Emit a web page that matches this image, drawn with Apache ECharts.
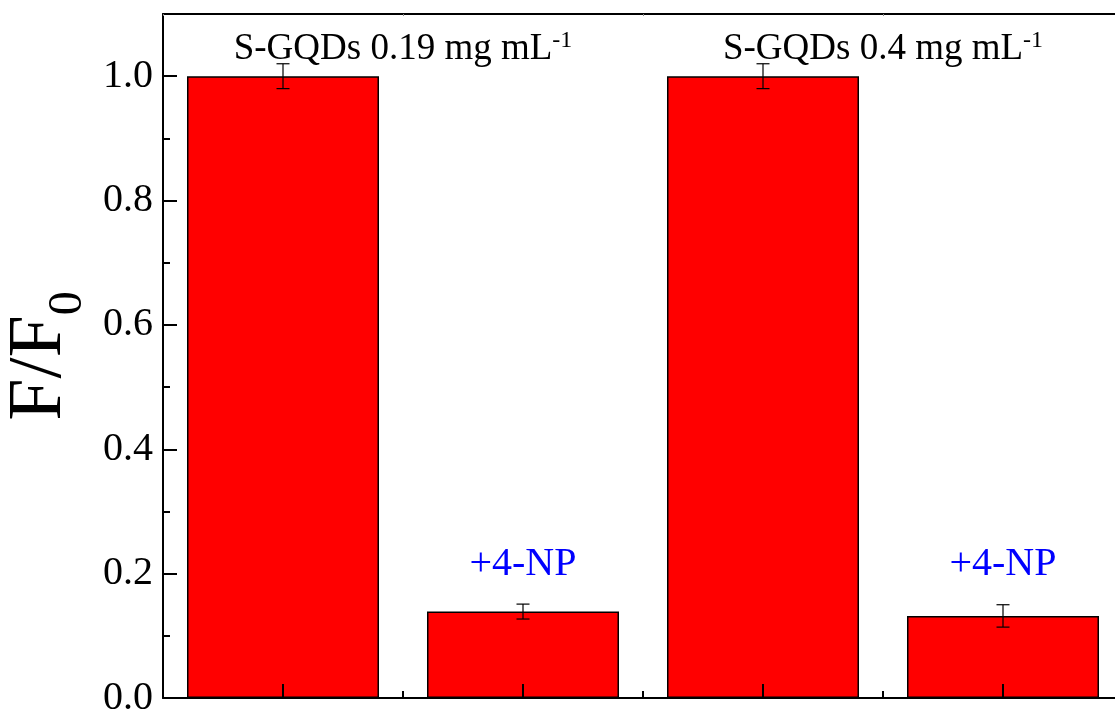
<!DOCTYPE html>
<html>
<head>
<meta charset="utf-8">
<script src="https://cdn.jsdelivr.net/npm/echarts@6/dist/echarts.min.js"></script>
<style>
  html, body { margin: 0; padding: 0; background: #fff; }
  #main { width: 1115px; height: 713px; }
</style>
</head>
<body>
<div id="main"></div>
<script>
// data
var categories = ["S-GQDs 0.19", "+4-NP (0.19)", "S-GQDs 0.4", "+4-NP (0.4)"];
var ratio = [1.0, 0.139, 1.0, 0.132];
var ratioErr = [0.02, 0.012, 0.02, 0.018];
var yTicks = [0, 0.2, 0.4, 0.6, 0.8, 1.0];
// group captions sit between the two bars of each pair
var groupNames = ["S-GQDs 0.19 mg mL", "S-GQDs 0.4 mg mL"];
var groupAt = [0, 2];
var addName = "+4-NP";
var addAt = [1, 3];

var FONT = "Liberation Serif";
var chart = echarts.init(document.getElementById("main"));

var errData = ratio.map(function (v, i) { return [i, v - ratioErr[i], v + ratioErr[i]]; });

var textData = [];
groupNames.forEach(function (t, k) { textData.push([groupAt[k], 1.044, t, "group"]); });
addAt.forEach(function (idx) { textData.push([idx, 0.214, addName, "add"]); });

chart.setOption({
  animation: false,
  grid: { left: 163, top: 14, bottom: 15, right: -8, containLabel: false, outerBoundsMode: "none" },
  xAxis: [
    {
      type: "category",
      data: categories,
      position: "bottom",
      z: 10,
      axisLine: { lineStyle: { color: "#000", width: 2 } },
      axisTick: { show: true, inside: true, alignWithLabel: true, interval: 0, length: 14, lineStyle: { color: "#000", width: 2 } },
      axisLabel: { show: false },
      splitLine: { show: false }
    },
    {
      type: "category",
      data: categories,
      position: "bottom",
      z: 10,
      axisLine: { show: false },
      axisTick: { show: true, inside: true, interval: 0, length: 7, lineStyle: { color: "#000", width: 2 } },
      axisLabel: { show: false }
    },
    {
      type: "category",
      data: categories,
      position: "top",
      z: 10,
      axisLine: { lineStyle: { color: "#000", width: 2 } },
      axisTick: { show: true, inside: true, interval: 0, length: 2, lineStyle: { color: "#888", width: 1 } },
      axisLabel: { show: false }
    }
  ],
  yAxis: {
    type: "value",
    min: 0,
    max: 1.1,
    interval: 0.2,
    z: 10,
    name: "{f|F/F}{s|0}",
    nameLocation: "middle",
    nameGap: 82,
    nameRotate: 90,
    nameTextStyle: {
      rich: {
        f: { fontFamily: FONT, fontSize: 76, color: "#000" },
        s: { fontFamily: FONT, fontSize: 48, color: "#000", verticalAlign: "bottom", padding: [0, 0, -14, 0] }
      }
    },
    axisLine: { show: true, lineStyle: { color: "#000", width: 2 } },
    axisTick: { show: true, inside: true, length: 14, lineStyle: { color: "#000", width: 2 } },
    minorTick: { show: true, splitNumber: 2, length: 7, lineStyle: { color: "#000", width: 2 } },
    axisLabel: {
      showMaxLabel: false,
      margin: 10,
      fontFamily: FONT,
      fontSize: 40,
      color: "#000",
      formatter: function (v) { return yTicks.indexOf(Math.round(v * 10) / 10) >= 0 ? v.toFixed(1) : ""; }
    },
    splitLine: { show: false }
  },
  series: [
    {
      type: "bar",
      data: ratio,
      barWidth: "80%",
      itemStyle: { color: "#ff0000", borderColor: "#000", borderWidth: 1.5 },
      z: 2
    },
    {
      type: "custom",
      data: errData,
      z: 3,
      renderItem: function (params, api) {
        var lo = api.coord([api.value(0), api.value(1)]);
        var hi = api.coord([api.value(0), api.value(2)]);
        var w = 6.5;
        var st = { stroke: "#000", lineWidth: 1.2 };
        return {
          type: "group",
          children: [
            { type: "line", shape: { x1: lo[0], y1: lo[1], x2: hi[0], y2: hi[1] }, style: st },
            { type: "line", shape: { x1: lo[0] - w, y1: lo[1], x2: lo[0] + w, y2: lo[1] }, style: st },
            { type: "line", shape: { x1: hi[0] - w, y1: hi[1], x2: hi[0] + w, y2: hi[1] }, style: st }
          ]
        };
      }
    },
    {
      type: "custom",
      data: textData,
      z: 4,
      renderItem: function (params, api) {
        var p = api.coord([api.value(0), api.value(1)]);
        var kind = api.value(3);
        var band = api.size([1, 0])[0];
        if (kind === "group") {
          return {
            type: "text",
            x: p[0] + band / 2,
            y: p[1],
            style: {
              text: "{a|" + api.value(2) + "}{b|-1}",
              align: "center",
              verticalAlign: "middle",
              rich: {
                a: { fontFamily: FONT, fontSize: 37, fill: "#000", color: "#000" },
                b: { fontFamily: FONT, fontSize: 24, fill: "#000", color: "#000", verticalAlign: "top", padding: [0, 0, 16, 0] }
              }
            }
          };
        }
        return {
          type: "text",
          x: p[0],
          y: p[1],
          style: {
            text: api.value(2),
            align: "center",
            verticalAlign: "middle",
            fontFamily: FONT,
            fontSize: 40,
            fill: "#0000ff"
          }
        };
      }
    }
  ]
});
</script>
</body>
</html>
